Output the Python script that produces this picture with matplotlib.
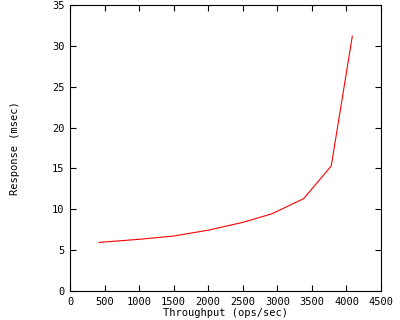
import matplotlib
matplotlib.use("Agg")
import matplotlib.pyplot as plt

# throughput (ops/sec) vs response time (msec)
throughput = [420, 1000, 1500, 2000, 2500, 2920, 3380, 3780, 4085]
response = [5.95, 6.33, 6.73, 7.45, 8.4, 9.45, 11.3, 15.3, 31.2]

xticks = list(range(0, 4501, 500))
yticks = list(range(0, 36, 5))

plt.rcParams["font.family"] = "DejaVu Sans Mono"
plt.rcParams["font.size"] = 7.5

fig = plt.figure(figsize=(4.0, 3.2), dpi=100)
ax = fig.add_axes([0.175, 0.0906, 0.7775, 0.8934])

ax.plot(throughput, response, color="red", linewidth=0.8)

ax.set_xlim(0, 4500)
ax.set_ylim(0, 35)
ax.set_xticks(xticks)
ax.set_yticks(yticks)
ax.tick_params(direction="in", length=4, width=0.8, top=True, right=True,
               labeltop=False, labelright=False, pad=4)
for s in ax.spines.values():
    s.set_linewidth(0.8)

ax.set_xlabel("Throughput (ops/sec)", labelpad=1)
ax.set_ylabel("Response (msec)", labelpad=23)

fig.savefig("out.png", dpi=100)
